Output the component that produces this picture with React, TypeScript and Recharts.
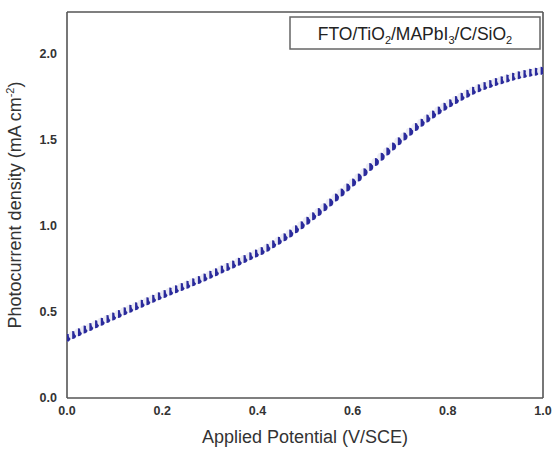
import React from "react";
import { ScatterChart, Scatter, XAxis, YAxis, Customized } from "recharts";

const potentials = [
  0.0, 0.012, 0.024, 0.036, 0.048, 0.06, 0.072, 0.084, 0.096, 0.108,
  0.12, 0.132, 0.144, 0.156, 0.168, 0.18, 0.192, 0.204, 0.216, 0.228,
  0.24, 0.252, 0.264, 0.276, 0.288, 0.3, 0.312, 0.324, 0.336, 0.348,
  0.36, 0.372, 0.384, 0.396, 0.408, 0.42, 0.432, 0.444, 0.456, 0.468,
  0.48, 0.492, 0.504, 0.516, 0.528, 0.54, 0.552, 0.564, 0.576, 0.588,
  0.6, 0.612, 0.624, 0.636, 0.648, 0.66, 0.672, 0.684, 0.696, 0.708,
  0.72, 0.732, 0.744, 0.756, 0.768, 0.78, 0.792, 0.804, 0.816, 0.828,
  0.84, 0.852, 0.864, 0.876, 0.888, 0.9, 0.912, 0.924, 0.936, 0.948,
  0.96, 0.972, 0.984, 0.996,
];

const photocurrent = [
  0.35, 0.366, 0.381, 0.397, 0.412, 0.428, 0.443, 0.458, 0.473, 0.488,
  0.503, 0.518, 0.533, 0.547, 0.562, 0.576, 0.591, 0.604, 0.618, 0.631,
  0.644, 0.657, 0.671, 0.685, 0.699, 0.715, 0.73, 0.745, 0.76, 0.775,
  0.791, 0.806, 0.822, 0.838, 0.853, 0.872, 0.892, 0.912, 0.933, 0.955,
  0.979, 1.003, 1.028, 1.054, 1.08, 1.107, 1.135, 1.163, 1.192, 1.221,
  1.25, 1.28, 1.31, 1.34, 1.37, 1.4, 1.43, 1.46, 1.49, 1.518,
  1.545, 1.572, 1.598, 1.622, 1.645, 1.668, 1.69, 1.711, 1.73, 1.748,
  1.766, 1.783, 1.797, 1.81, 1.822, 1.834, 1.844, 1.854, 1.864, 1.873,
  1.88, 1.887, 1.893, 1.899,
];

const xTicks = [0, 0.2, 0.4, 0.6, 0.8, 1.0];
const yTicks = [0, 0.5, 1.0, 1.5, 2.0];

const data = potentials.map((v, i) => ({ v, j: photocurrent[i] }));

const FONT = "'Liberation Sans', Arial, sans-serif";
const NAVY = "#2a2a9c";

const Marker = (props: any) => {
  const { cx, cy } = props;
  if (cx == null || cy == null) return null;
  const r = 4;
  return (
    <g>
      <circle cx={cx} cy={cy} r={r} fill="#ececf4" />
      <path
        d={`M ${cx - 0.5} ${cy - r} A ${r} ${r} 0 0 1 ${cx - 0.5} ${cy + r} Z`}
        fill={NAVY}
      />
    </g>
  );
};

const Frame = () => (
  <g>
    <line x1={67} y1={12} x2={543} y2={12} stroke="#555" strokeWidth={1.6} />
    <line x1={543} y1={12} x2={543} y2={398} stroke="#555" strokeWidth={1.6} />
    <rect x={290} y={17} width={250} height={32} fill="#fff" stroke="#666" strokeWidth={1.5} />
    <text x={415} y={40} textAnchor="middle" fontFamily={FONT} fontSize={17.5} fill="#222">
      FTO/TiO<tspan fontSize={11} dy={4}>2</tspan>
      <tspan dy={-4}>/MAPbI</tspan>
      <tspan fontSize={11} dy={4}>3</tspan>
      <tspan dy={-4}>/C/SiO</tspan>
      <tspan fontSize={11} dy={4}>2</tspan>
    </text>
    <text
      x={21}
      y={205}
      transform="rotate(-90 21 205)"
      textAnchor="middle"
      fontFamily={FONT}
      fontSize={18}
      fill="#333"
    >
      Photocurrent density (mA cm<tspan fontSize={11} dy={-7}>-2</tspan>
      <tspan dy={7}>)</tspan>
    </text>
    <text x={305} y={443} textAnchor="middle" fontFamily={FONT} fontSize={18} fill="#333">
      Applied Potential (V/SCE)
    </text>
  </g>
);

export default function App() {
  return (
    <div style={{ position: "absolute", left: 0, top: 0 }}>
      <ScatterChart
        width={553}
        height={450}
        margin={{ top: 12, right: 10, left: 0, bottom: 0 }}
        style={{ background: "#fff" }}
      >
        <XAxis
          type="number"
          dataKey="v"
          domain={[0, 1]}
          ticks={xTicks}
          tickFormatter={(t: number) => t.toFixed(1)}
          height={52}
          tickLine={false}
          tickSize={6}
          axisLine={{ stroke: "#555", strokeWidth: 1.6 }}
          tick={{ fill: "#333", fontSize: 12.5, fontWeight: "bold", fontFamily: FONT }}
          interval={0}
          allowDataOverflow
        />
        <YAxis
          type="number"
          dataKey="j"
          domain={[0, 2.24]}
          ticks={yTicks}
          tickFormatter={(t: number) => t.toFixed(1)}
          width={67}
          tickLine={false}
          tickSize={8}
          axisLine={{ stroke: "#555", strokeWidth: 1.6 }}
          tick={{ fill: "#333", fontSize: 12.5, fontWeight: "bold", fontFamily: FONT }}
          interval={0}
          allowDataOverflow
        />
        <Scatter data={data} shape={Marker} isAnimationActive={false} />
        <Customized component={Frame} />
      </ScatterChart>
    </div>
  );
}
